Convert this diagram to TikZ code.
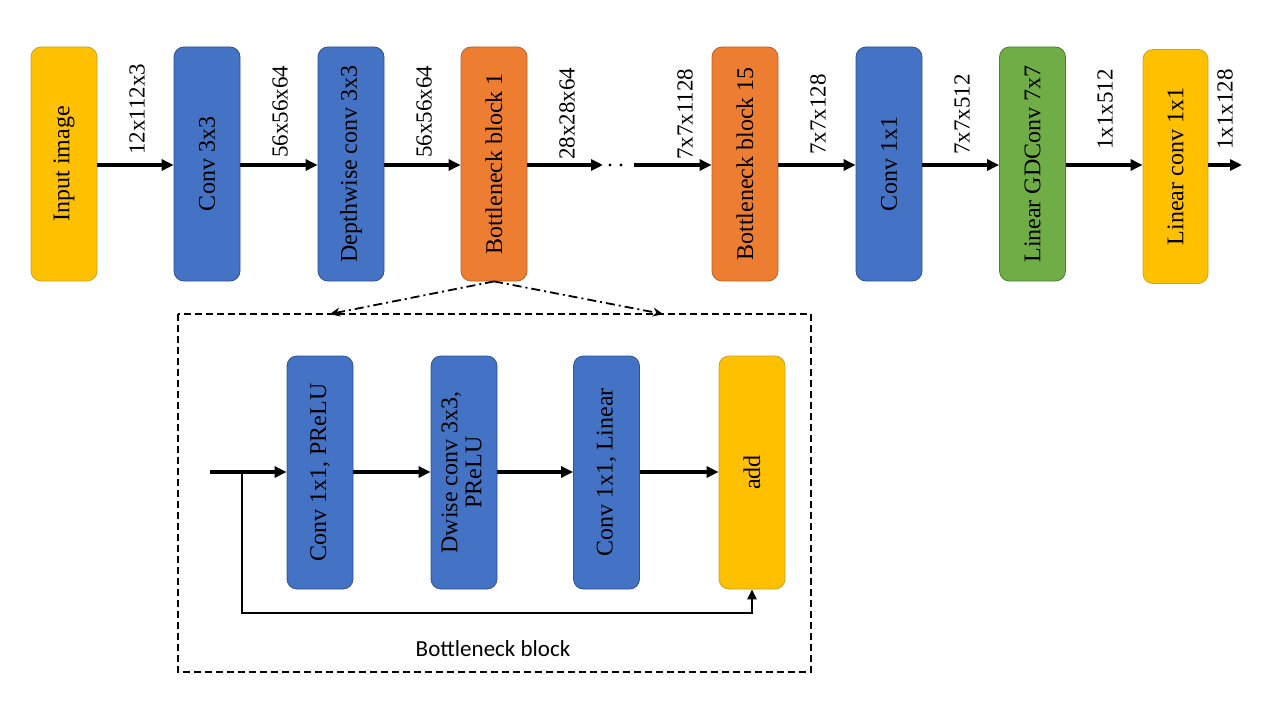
\documentclass[tikz,border=0pt]{standalone}
\usepackage{graphicx}
\usepackage{fontspec}
\setmainfont{Liberation Serif}
\newfontfamily\calibfont{Carlito}
\usetikzlibrary{arrows.meta}
\definecolor{cyel}{HTML}{FFC000}
\definecolor{cyelb}{HTML}{C9A227}
\definecolor{cblue}{HTML}{4472C4}
\definecolor{cblueb}{HTML}{2F528F}
\definecolor{cora}{HTML}{ED7D31}
\definecolor{corab}{HTML}{B9622A}
\definecolor{cgre}{HTML}{70AD47}
\definecolor{cgreb}{HTML}{507E32}
\begin{document}
\begin{tikzpicture}[x=1pt,y=-1pt,
  blk/.style={rounded corners=10pt, minimum width=66pt, minimum height=234pt,
    line width=0.8pt, inner sep=0pt, font=\fontsize{24}{27}\selectfont},
  yb/.style={blk, fill=cyel, draw=cyelb},
  bb/.style={blk, fill=cblue, draw=cblueb},
  ob/.style={blk, fill=cora, draw=corab},
  gb/.style={blk, fill=cgre, draw=cgreb},
  dim/.style={rotate=90, anchor=west, inner sep=0pt, font=\fontsize{23}{26}\selectfont},
  arr/.style={line width=3.3pt, -{Triangle[length=12pt,width=11pt]}},
  zoomarr/.style={line width=1.8pt, dash pattern=on 9pt off 4pt on 2pt off 4pt, -{Stealth[length=10pt,width=9pt]}},
]
\useasboundingbox (0,0) rectangle (1263,701);

% main chain
\node[yb] (inp) at (64,164) {\rotatebox{90}{Input image}};
\node[bb] (c1) at (207,164) {\rotatebox{90}{Conv 3x3}};
\node[bb] (dw) at (351,164) {\rotatebox{90}{Depthwise conv 3x3}};
\node[ob] (b1) at (494,164) {\rotatebox{90}{Bottleneck block 1}};
\node[ob] (b15) at (745,164) {\rotatebox{90}{Bottleneck block 15}};
\node[bb] (c2) at (889,164) {\rotatebox{90}{Conv 1x1}};
\node[gb] (gd) at (1032.5,164) {\rotatebox{90}{Linear GDConv 7x7}};
\node[yb, minimum width=65pt] (lc) at (1175.5,166.5) {\rotatebox{90}{Linear conv 1x1}};

\coordinate (d1) at (603,165);
\coordinate (d2) at (634,165);
\coordinate (outp) at (1242,165);

\draw[arr] (inp.east |- 0,165) -- (c1.west |- 0,165);
\draw[arr] (c1.east |- 0,165) -- (dw.west |- 0,165);
\draw[arr] (dw.east |- 0,165) -- (b1.west |- 0,165);
\draw[arr] (b1.east |- 0,165) -- (d1);
\fill (610,165) circle (1.7pt);
\fill (621,165) circle (1.7pt);
\draw[arr] (d2) -- (b15.west |- 0,165);
\draw[arr] (b15.east |- 0,165) -- (c2.west |- 0,165);
\draw[arr] (c2.east |- 0,165) -- (gd.west |- 0,165);
\draw[arr] (gd.east |- 0,165) -- (lc.west |- 0,165);
\draw[arr] (lc.east |- 0,165) -- (outp);

% dimension labels
\node[dim] (l1) at (137,155) {12x112x3};
\node[dim] (l2) at (280,158) {56x56x64};
\node[dim] (l3) at (424,158) {56x56x64};
\node[dim] (l4) at (567,160) {28x28x64};
\node[dim] (l5) at (685,160) {7x7x1128};
\node[dim] (l6) at (818,155) {7x7x128};
\node[dim] (l7) at (962,155) {7x7x512};
\node[dim] (l8) at (1105,150) {1x1x512};
\node[dim] (l9) at (1225,150) {1x1x128};

% bottleneck detail
\draw[line width=2.2pt, dash pattern=on 7pt off 4pt] (178,314) rectangle (811,672);
\coordinate (zl) at (330,314);
\coordinate (zr) at (663,314);
\draw[zoomarr] (b1.south) -- (zl);
\draw[zoomarr] (b1.south) -- (zr);

\node[bb, minimum height=233pt] (i1) at (320,472.5) {\rotatebox{90}{Conv 1x1, PReLU}};
\node[bb, minimum height=233pt] (i2) at (464,472.5) {\rotatebox{90}{\begin{tabular}{@{}c@{}}Dwise conv 3x3,\\[-3pt]PReLU\end{tabular}}};
\node[bb, minimum height=233pt] (i3) at (606.5,472.5) {\rotatebox{90}{Conv 1x1, Linear}};
\node[yb, minimum height=233pt] (add) at (752,472.5) {\rotatebox{90}{add}};

\coordinate (in0) at (210,472);
\coordinate (br) at (242,472);
\coordinate (bl) at (242,613);
\coordinate (brr) at (752,613);

\draw[arr] (in0) -- (i1.west |- 0,472);
\draw[arr] (i1.east |- 0,472) -- (i2.west |- 0,472);
\draw[arr] (i2.east |- 0,472) -- (i3.west |- 0,472);
\draw[arr] (i3.east |- 0,472) -- (add.west |- 0,472);
\draw[line width=2.5pt, -{Triangle[length=10pt,width=9pt]}] (br) -- (bl) -- (brr) -- (add.south);

\node[font=\calibfont\fontsize{23}{26}\selectfont, inner sep=0pt] (cap) at (493,649) {Bottleneck block};
\end{tikzpicture}
\end{document}
